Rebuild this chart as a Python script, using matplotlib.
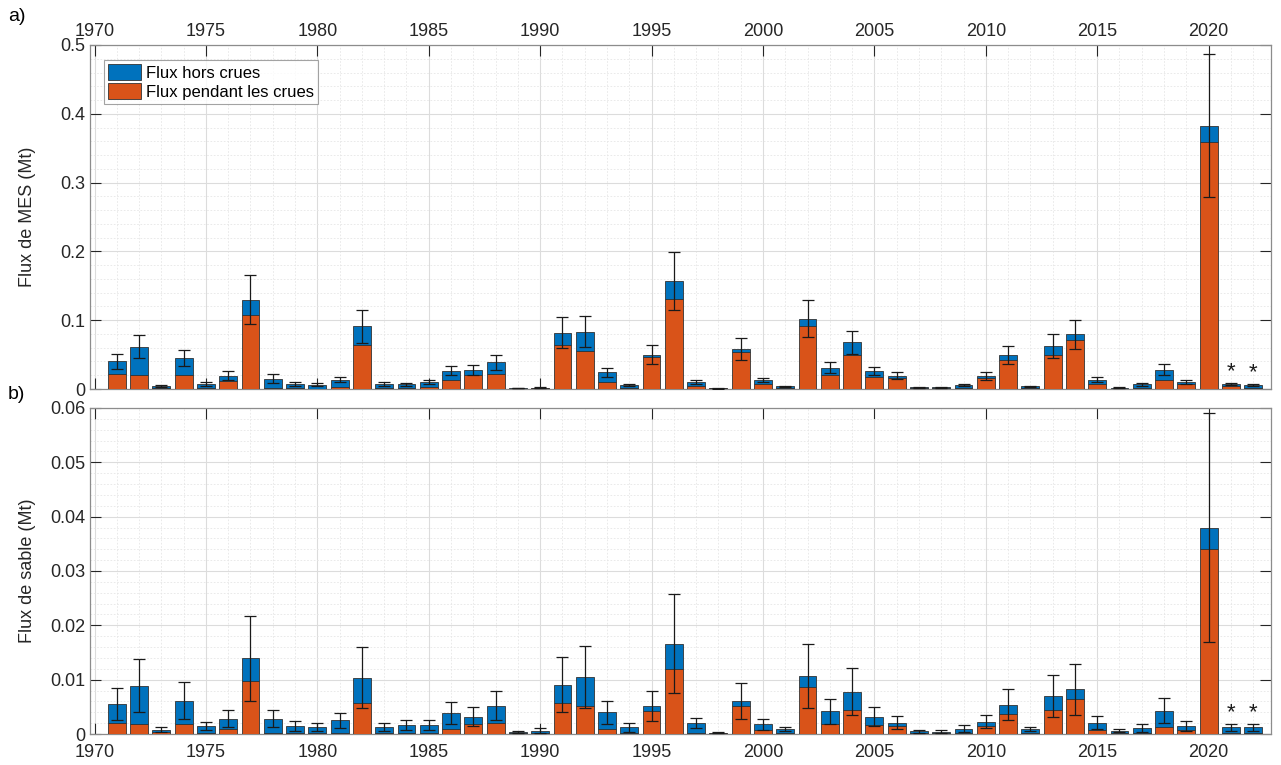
import numpy as np
import matplotlib
matplotlib.use("Agg")
import matplotlib.pyplot as plt
from matplotlib.ticker import MultipleLocator, FuncFormatter

plt.rcParams['font.family'] = ['Liberation Sans', 'DejaVu Sans']

years = list(range(1971, 2023))

# Flux de MES (Mt): total, part pendant les crues, incertitude
mes_total = [0.040, 0.0615, 0.0044, 0.045, 0.0073, 0.0195, 0.130, 0.015, 0.0073, 0.0063,
             0.0137, 0.091, 0.0073, 0.0068, 0.0098, 0.0268, 0.0273, 0.039, 0.0015, 0.002,
             0.082, 0.0834, 0.024, 0.0059, 0.050, 0.1566, 0.0098, 0.001, 0.058, 0.0137,
             0.004, 0.1024, 0.031, 0.068, 0.0259, 0.019, 0.0024, 0.0024, 0.0054, 0.019,
             0.049, 0.004, 0.062, 0.0795, 0.0137, 0.002, 0.0068, 0.0278, 0.0107, 0.3824,
             0.0073, 0.0054]
mes_crues = [0.022, 0.020, 0.002, 0.020, 0.001, 0.011, 0.107, 0.002, 0.001, 0.0005,
             0.0025, 0.064, 0.002, 0.001, 0.0034, 0.013, 0.0205, 0.022, 0.0005, 0.001,
             0.064, 0.055, 0.010, 0.001, 0.046, 0.131, 0.004, 0.0008, 0.0537, 0.0078,
             0.001, 0.0917, 0.020, 0.049, 0.018, 0.016, 0.001, 0.001, 0.001, 0.0166,
             0.0415, 0.001, 0.050, 0.0717, 0.0068, 0.0005, 0.001, 0.0137, 0.0068, 0.3595,
             0.0044, 0.001]
mes_err = [0.011, 0.0165, 0.001, 0.012, 0.003, 0.006, 0.035, 0.007, 0.0025, 0.002,
           0.004, 0.024, 0.003, 0.002, 0.003, 0.007, 0.007, 0.011, 0.0005, 0.001,
           0.022, 0.022, 0.007, 0.002, 0.014, 0.042, 0.003, 0.0003, 0.016, 0.003,
           0.001, 0.027, 0.008, 0.017, 0.006, 0.005, 0.001, 0.001, 0.0015, 0.006,
           0.013, 0.001, 0.0175, 0.0215, 0.0035, 0.0005, 0.002, 0.008, 0.003, 0.104,
           0.0015, 0.0015]

# Flux de sable (Mt)
sable_total = [0.0055, 0.0089, 0.0008, 0.0061, 0.0015, 0.0028, 0.0139, 0.0028, 0.0015, 0.0013,
               0.0025, 0.0104, 0.0013, 0.0017, 0.0017, 0.0039, 0.0032, 0.0052, 0.0003, 0.0006,
               0.0091, 0.0105, 0.004, 0.0012, 0.0052, 0.0166, 0.002, 0.0002, 0.006, 0.0018,
               0.0009, 0.0106, 0.0042, 0.0078, 0.0032, 0.0021, 0.0005, 0.0004, 0.001, 0.0023,
               0.0054, 0.0009, 0.007, 0.0082, 0.0021, 0.0006, 0.0011, 0.0043, 0.0015, 0.038,
               0.0012, 0.0012]
sable_crues = [0.002, 0.0018, 0.0003, 0.0018, 0.0002, 0.001, 0.0098, 0.0002, 0.0002, 0.0002,
               0.0002, 0.0057, 0.0002, 0.0002, 0.0002, 0.001, 0.0018, 0.002, 0.0001, 0.0002,
               0.0058, 0.0052, 0.0009, 0.0002, 0.0043, 0.012, 0.0002, 0.0001, 0.0051, 0.0008,
               0.0002, 0.0087, 0.0018, 0.0045, 0.0016, 0.0014, 0.0001, 0.0001, 0.0002, 0.0014,
               0.0037, 0.0002, 0.0045, 0.0065, 0.0007, 0.0001, 0.0002, 0.0012, 0.0007, 0.034,
               0.0002, 0.0002]
sable_err = [0.003, 0.0049, 0.0004, 0.0034, 0.0008, 0.0016, 0.0078, 0.0016, 0.0009, 0.0008,
             0.0014, 0.0057, 0.0007, 0.0009, 0.0009, 0.002, 0.0017, 0.0027, 0.0002, 0.0005,
             0.0051, 0.0057, 0.0021, 0.0008, 0.0028, 0.0091, 0.0009, 0.0001, 0.0033, 0.001,
             0.0004, 0.0059, 0.0023, 0.0043, 0.0017, 0.0012, 0.0003, 0.0003, 0.0007, 0.0012,
             0.0029, 0.0004, 0.0039, 0.0047, 0.0012, 0.0003, 0.0007, 0.0023, 0.0009, 0.021,
             0.0007, 0.0007]

starred = [2021, 2022]

BLUE = '#0072BD'
ORANGE = '#D95319'
AXCOL = '#262626'


def draw_panel(ax, total, crues, err, ymax, ystep, ylabel, top_labels):
    x = np.array(years)
    total = np.array(total)
    crues = np.array(crues)
    hors = total - crues
    ax.bar(x, crues, width=0.8, color=ORANGE, edgecolor='#333333', linewidth=0.6,
           label='Flux pendant les crues', zorder=3)
    ax.bar(x, hors, width=0.8, bottom=crues, color=BLUE, edgecolor='#333333', linewidth=0.6,
           label='Flux hors crues', zorder=3)
    ax.errorbar(x, total, yerr=err, fmt='none', ecolor='#1a1a1a', elinewidth=0.9,
                capsize=4.5, capthick=0.9, zorder=4)
    for yr in starred:
        i = years.index(yr)
        ax.text(yr, total[i] + err[i] + ymax * 0.002, '*', ha='center', va='bottom',
                fontsize=16, color='#1a1a1a', zorder=5)

    ax.set_xlim(1969.8, 2022.8)
    ax.set_ylim(0, ymax)
    ax.xaxis.set_major_locator(MultipleLocator(5))
    ax.xaxis.set_minor_locator(MultipleLocator(1))
    ax.yaxis.set_major_locator(MultipleLocator(ystep))
    ax.yaxis.set_minor_locator(MultipleLocator(ystep / 5))
    ax.yaxis.set_major_formatter(FuncFormatter(lambda v, p: '%g' % round(v, 4)))

    ax.grid(which='major', color='#dcdcdc', linewidth=0.8, zorder=0)
    ax.grid(which='minor', color='#e6e6e6', linewidth=0.6, linestyle=(0, (2, 2)), zorder=0)
    ax.set_axisbelow(True)

    ax.tick_params(which='major', direction='in', length=8, width=0.8, color=AXCOL,
                   top=True, right=True, labelsize=13, labelcolor='#262626')
    ax.tick_params(which='minor', length=0)
    if top_labels:
        ax.tick_params(labeltop=True, labelbottom=False)
    else:
        ax.tick_params(axis='x', pad=7)
    for s in ax.spines.values():
        s.set_color('#8c8c8c')
        s.set_linewidth(0.9)
    ax.set_ylabel(ylabel, fontsize=13, color='#262626')
    ax.yaxis.set_label_coords(-0.046, 0.5)


fig = plt.figure(figsize=(12.81, 7.65), dpi=100)
ax1 = fig.add_axes([0.0703, 0.4915, 0.9219, 0.4497])
ax2 = fig.add_axes([0.0703, 0.0405, 0.9219, 0.4262])

draw_panel(ax1, mes_total, mes_crues, mes_err, 0.5, 0.1, 'Flux de MES (Mt)', True)
draw_panel(ax2, sable_total, sable_crues, sable_err, 0.06, 0.01, 'Flux de sable (Mt)', False)

handles, labels = ax1.get_legend_handles_labels()
leg = ax1.legend(handles[::-1], labels[::-1], loc='upper left', bbox_to_anchor=(0.0115, 0.957),
                 fontsize=12, frameon=True, fancybox=False, borderpad=0.25,
                 handlelength=2.0, handleheight=1.15, handletextpad=0.3, labelspacing=0.12,
                 borderaxespad=0.0)
leg.get_frame().set_edgecolor('#8c8c8c')
leg.get_frame().set_linewidth(0.8)

fig.text(0.006, 0.978, 'a)', fontsize=14, ha='left', va='center')
fig.text(0.006, 0.484, 'b)', fontsize=14, ha='left', va='center')

fig.savefig('out.png', dpi=100)
